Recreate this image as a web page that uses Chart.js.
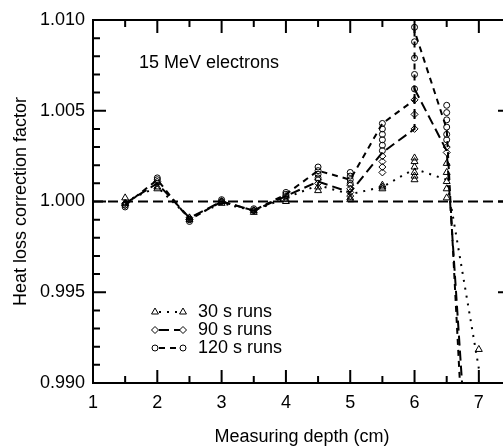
<!DOCTYPE html>
<html lang="en">
<head>
<meta charset="UTF-8">
<title>Heat loss correction factor</title>
<script src="https://cdn.jsdelivr.net/npm/chart.js@4"></script>
<style>
  html, body { margin: 0; padding: 0; background: #fff; overflow: hidden; }
  #wrap { width: 520px; height: 455px; }
</style>
</head>
<body>
<div id="wrap"><canvas id="chart" width="520" height="455"></canvas></div>
<script>
// measuring depths (cm)
const depths = [1.5, 2, 2.5, 3, 3.5, 4, 4.5, 5, 5.5, 6, 6.5, 7];

// individual runs at each depth
const runs30 = [[1.0002, 0.9999], [1.0008, 1.0007], [0.9991, 0.9990], [1.0000, 0.9999],
  [0.9995, 0.9994], [1.0001, 1.0000], [1.0008, 1.0006], [1.0002, 1.0001],
  [1.0009, 1.0008, 1.0007], [1.0024, 1.0022, 1.0019, 1.0016, 1.0014, 1.0012],
  [1.0021, 1.0016, 1.0011, 1.0007, 1.0002], [0.99185]];
const runs90 = [[0.9999, 0.9998], [1.0011, 1.0010], [0.9991, 0.9990], [1.0000],
  [0.9995], [1.0003, 1.0002], [1.0012, 1.0010], [1.0009, 1.0007, 1.0005, 1.0003],
  [1.0025, 1.0022, 1.0019, 1.0016], [1.0056, 1.0048, 1.0040], [1.0030, 1.0027], []];
const runs120 = [[0.9998, 0.9997], [1.0013, 1.0012], [0.9990, 0.9989], [1.0001, 1.0000],
  [0.9996, 0.9995], [1.0005, 1.0004], [1.0019, 1.0017, 1.0015, 1.0013],
  [1.0016, 1.0014, 1.0012, 1.0010], [1.0043, 1.0040, 1.0037, 1.0034, 1.0031, 1.0028],
  [1.0096, 1.0088, 1.0079, 1.0070, 1.0062], [1.0053, 1.0049, 1.0045, 1.0041, 1.0037, 1.0034], []];

// connecting lines
const line30 = [1.0000, 1.0008, 0.9991, 0.9999, 0.9995, 1.0002, 1.0009, 1.0004, 1.0008, 1.0018, 1.0012, 0.9908];
const lineX = [1.5, 2, 2.5, 3, 3.5, 4, 4.5, 5, 5.5, 6, 6, 6.5, 7];
const line90 = [0.9999, 1.0010, 0.9991, 1.0000, 0.9995, 1.0003, 1.0011, 1.0005, 1.0027, 1.0040, 1.0062, 1.0028, 0.976];
const line120 = [0.9998, 1.0012, 0.9990, 1.0000, 0.9995, 1.0004, 1.0017, 1.0012, 1.0043, 1.0056, 1.0094, 1.0040, 0.970];

const refLine = [1.0, 1.0];
const xTicks = [1, 2, 3, 4, 5, 6, 7];
const yTicks = [0.990, 0.995, 1.000, 1.005, 1.010];

const FONT = '"Liberation Sans", Arial, Helvetica, sans-serif';

function runPoints(runs) {
  const pts = [];
  runs.forEach((vals, i) => vals.forEach(v => pts.push({ x: depths[i], y: v })));
  return pts;
}

const series = [
  { label: '30 s runs', style: 'triangle', radius: 4, dash: [2, 6], runs: runs30,
    line: line30.map((v, i) => ({ x: depths[i], y: v })) },
  { label: '90 s runs', style: 'rectRot', radius: 3.5, dash: [10, 5], runs: runs90,
    line: line90.map((v, i) => ({ x: lineX[i], y: v })) },
  { label: '120 s runs', style: 'circle', radius: 3, dash: [6, 5], runs: runs120,
    line: line120.map((v, i) => ({ x: lineX[i], y: v })) }
];

const datasets = [{
  data: [{ x: 1, y: refLine[0] }, { x: 7.5, y: refLine[1] }],
  showLine: true, borderColor: '#000', borderWidth: 2, borderDash: [10, 5],
  pointRadius: 0
}];
series.forEach(s => {
  datasets.push({
    data: s.line, showLine: true, borderColor: '#000', borderWidth: 2,
    borderDash: s.dash, pointRadius: 0
  });
  datasets.push({
    data: runPoints(s.runs), showLine: false, pointStyle: s.style,
    pointRadius: s.radius, borderColor: '#000', borderWidth: 1,
    backgroundColor: 'rgba(0,0,0,0)'
  });
});

// frame, inward ticks, legend and annotation
const framePlugin = {
  id: 'frame',
  afterDraw(chart) {
    const { ctx, chartArea: a, scales: { x, y } } = chart;
    ctx.save();
    ctx.strokeStyle = '#000';
    ctx.lineWidth = 2;
    ctx.strokeRect(a.left, a.top, a.right - a.left, a.bottom - a.top);
    ctx.beginPath();
    for (let k = 2; k <= 15; k++) {
      const v = k / 2;
      const px = x.getPixelForValue(v);
      const len = k % 2 === 0 ? 13 : 7;
      ctx.moveTo(px, a.bottom); ctx.lineTo(px, a.bottom - len);
      ctx.moveTo(px, a.top); ctx.lineTo(px, a.top + len);
    }
    for (let k = 0; k <= 20; k++) {
      const py = y.getPixelForValue(0.990 + k * 0.001);
      const len = k % 5 === 0 ? 13 : 7;
      ctx.moveTo(a.left, py); ctx.lineTo(a.left + len, py);
      ctx.moveTo(a.right, py); ctx.lineTo(a.right - len, py);
    }
    ctx.stroke();

    ctx.font = '18px ' + FONT;
    ctx.textBaseline = 'middle';
    ctx.fillStyle = '#000';
    ctx.fillText('15 MeV electrons', 139, 63);

    series.forEach((s, i) => {
      const ly = 312 + i * 18;
      ctx.save();
      ctx.lineWidth = 2;
      ctx.setLineDash(s.dash);
      ctx.beginPath();
      ctx.moveTo(159, ly); ctx.lineTo(180, ly);
      ctx.stroke();
      ctx.restore();
      ctx.fillStyle = 'rgba(0,0,0,0)';
      ctx.lineWidth = 1;
      [155, 183].forEach(mx => Chart.helpers.drawPoint(ctx,
        { pointStyle: s.style, radius: s.radius, borderWidth: 1 }, mx, ly));
      ctx.fillStyle = '#000';
      ctx.fillText(s.label, 198, ly);
    });
    ctx.restore();
  }
};

new Chart(document.getElementById('chart'), {
  type: 'scatter',
  data: { datasets },
  options: {
    responsive: false,
    animation: false,
    devicePixelRatio: 1,
    layout: { padding: { left: 0, right: 9, top: 20, bottom: 0 } },
    plugins: { legend: { display: false }, tooltip: { enabled: false } },
    scales: {
      x: {
        type: 'linear', min: 1, max: 7.5,
        afterBuildTicks: s => { s.ticks = xTicks.map(v => ({ value: v })); },
        afterFit: s => { s.height = 72; },
        grid: { display: false, drawTicks: false },
        border: { display: false },
        ticks: { color: '#000', font: { family: FONT, size: 18 }, padding: 9, maxRotation: 0 },
        title: { display: true, text: 'Measuring depth (cm)', color: '#000',
          font: { family: FONT, size: 18 }, padding: { top: 0, bottom: 7 } }
      },
      y: {
        type: 'linear', min: 0.990, max: 1.010,
        afterBuildTicks: s => { s.ticks = yTicks.map(v => ({ value: v })); },
        afterFit: s => { s.width = 93; },
        grid: { display: false, drawTicks: false },
        border: { display: false },
        ticks: { color: '#000', font: { family: FONT, size: 18 }, padding: 8,
          callback: v => v.toFixed(3) },
        title: { display: true, text: 'Heat loss correction factor', color: '#000',
          font: { family: FONT, size: 18 }, padding: { top: 10, bottom: 0 } }
      }
    }
  },
  plugins: [framePlugin]
});
</script>
</body>
</html>
